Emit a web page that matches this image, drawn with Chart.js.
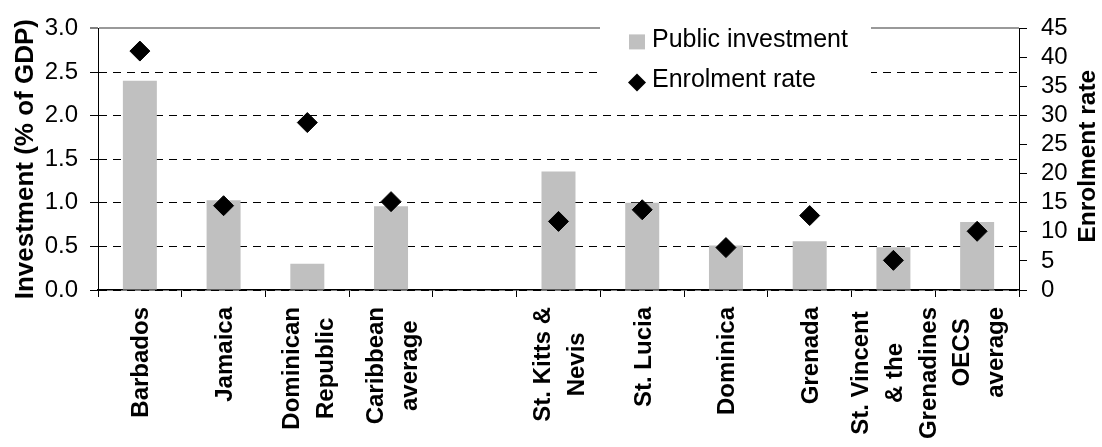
<!DOCTYPE html>
<html lang="en">
<head>
    <meta charset="UTF-8">
    <title>Public investment and enrolment rate</title>
    <style>
        body {
            margin: 0;
            padding: 0;
            background: #ffffff;
        }

        canvas {
            display: block;
        }
    </style>
    <script src="https://cdn.jsdelivr.net/npm/chart.js"></script>
</head>
<body>
    <canvas id="investChart" width="1102" height="447"></canvas>

    <script>
        // Countries along the x axis (the empty slot separates the two groups)
        const countries = [
            ['Barbados'], ['Jamaica'], ['Dominican', 'Republic'], ['Caribbean', 'average'], [''],
            ['St. Kitts &', 'Nevis'], ['St. Lucia'], ['Dominica'], ['Grenada'],
            ['St. Vincent', '& the', 'Grenadines'], ['OECS', 'average']
        ];
        // Public investment, % of GDP (left axis)
        const publicInvestment = [2.40, 1.03, 0.30, 0.96, null, 1.36, 1.00, 0.51, 0.56, 0.49, 0.78];
        // Enrolment rate (right axis)
        const enrolmentRate = [41.1, 14.5, 28.8, 15.2, null, 11.8, 13.8, 7.3, 12.8, 5.1, 10.1];

        const investmentTicks = [0, 0.5, 1, 1.5, 2, 2.5, 3];
        const enrolmentTicks = [0, 5, 10, 15, 20, 25, 30, 35, 40, 45];

        const FONT = "'Liberation Sans', Arial, sans-serif";
        Chart.defaults.font.family = FONT;
        Chart.defaults.color = '#000000';

        // Legend box and the hand-placed texts (rotated x labels, right axis title)
        const chartDecor = {
            id: 'chartDecor',
            beforeDatasetsDraw(chart) {
                const { ctx, chartArea } = chart;
                const lx = chartArea.left + 531;
                const ty = chartArea.top;

                ctx.save();
                // white backing hides the grid lines behind the legend
                ctx.fillStyle = '#ffffff';
                ctx.fillRect(chartArea.left + 502, ty - 12, 271, 84);

                ctx.fillStyle = '#c0c0c0';
                ctx.fillRect(lx, ty + 6, 16, 15);

                ctx.fillStyle = '#000000';
                ctx.beginPath();
                ctx.moveTo(lx + 8 - 9, ty + 54);
                ctx.lineTo(lx + 8, ty + 45);
                ctx.lineTo(lx + 8 + 9, ty + 54);
                ctx.lineTo(lx + 8, ty + 63);
                ctx.closePath();
                ctx.fill();

                ctx.font = '25px ' + FONT;
                ctx.textAlign = 'left';
                ctx.textBaseline = 'alphabetic';
                ctx.fillText('Public investment', lx + 23, ty + 19);
                ctx.fillText('Enrolment rate', lx + 23, ty + 59);
                ctx.restore();
            },
            afterDraw(chart) {
                const { ctx, chartArea } = chart;
                const xScale = chart.scales.x;

                ctx.save();
                ctx.fillStyle = '#000000';
                ctx.font = 'bold 24px ' + FONT;
                ctx.textAlign = 'center';
                ctx.textBaseline = 'alphabetic';

                countries.forEach((lines, i) => {
                    const cx = xScale.getPixelForTick(i);
                    const widest = Math.max(...lines.map(l => ctx.measureText(l).width));
                    const cy = chartArea.bottom + 17 + widest / 2;
                    lines.forEach((line, j) => {
                        const lx = cx + (j - (lines.length - 1) / 2) * 34;
                        ctx.save();
                        ctx.translate(lx, cy);
                        ctx.rotate(-Math.PI / 2);
                        ctx.fillText(line, 0, 8.5);
                        ctx.restore();
                    });
                });

                // right axis title reads bottom to top like the left one
                ctx.font = 'bold 24.5px ' + FONT;
                ctx.translate(1088, (chartArea.top + chartArea.bottom) / 2 - 3);
                ctx.rotate(-Math.PI / 2);
                ctx.textBaseline = 'middle';
                ctx.fillText('Enrolment rate', 0, 0);
                ctx.restore();
            }
        };

        new Chart(document.getElementById('investChart'), {
            data: {
                labels: countries,
                datasets: [
                    {
                        type: 'line',
                        label: 'Enrolment rate',
                        data: enrolmentRate,
                        yAxisID: 'y1',
                        showLine: false,
                        pointStyle: 'rectRot',
                        pointRadius: 10,
                        pointBackgroundColor: '#000000',
                        pointBorderColor: '#000000',
                        pointBorderWidth: 1
                    },
                    {
                        type: 'bar',
                        label: 'Public investment',
                        data: publicInvestment,
                        yAxisID: 'y',
                        backgroundColor: '#c0c0c0',
                        borderWidth: 0,
                        categoryPercentage: 1,
                        barPercentage: 0.406
                    }
                ]
            },
            options: {
                responsive: false,
                animation: false,
                events: [],
                layout: { padding: { top: 24, left: 0, right: 0, bottom: 0 } },
                plugins: {
                    legend: { display: false },
                    tooltip: { enabled: false }
                },
                scales: {
                    x: {
                        offset: true,
                        ticks: { display: false },
                        grid: {
                            offset: true,
                            drawOnChartArea: false,
                            drawTicks: true,
                            tickLength: 7,
                            tickColor: '#000000',
                            tickWidth: 1
                        },
                        border: { color: '#000000', width: 1.5 },
                        afterFit(scale) { scale.height = 157; }
                    },
                    y: {
                        position: 'left',
                        min: 0,
                        max: 3,
                        afterBuildTicks(axis) {
                            axis.ticks = investmentTicks.map(v => ({ value: v }));
                        },
                        ticks: {
                            autoSkip: false,
                            padding: 12,
                            font: { size: 24 },
                            callback: v => v.toFixed(1)
                        },
                        grid: {
                            color: c => (c.tick && c.tick.value === 3) ? '#999999' : '#000000',
                            lineWidth: c => (c.tick && c.tick.value === 3) ? 2 : 1,
                            tickLength: 8,
                            tickColor: '#000000',
                            tickWidth: 1,
                            tickBorderDash: []
                        },
                        border: {
                            color: '#000000',
                            width: 1,
                            dash: c => (c.tick && c.tick.value === 3) ? [] : [8, 6]
                        },
                        title: {
                            display: true,
                            text: 'Investment (% of GDP)',
                            font: { size: 26, weight: 'bold' },
                            padding: { top: 10, bottom: 0 }
                        },
                        afterFit(scale) { scale.width = 98; }
                    },
                    y1: {
                        position: 'right',
                        min: 0,
                        max: 45,
                        afterBuildTicks(axis) {
                            axis.ticks = enrolmentTicks.map(v => ({ value: v }));
                        },
                        ticks: {
                            autoSkip: false,
                            padding: 14,
                            font: { size: 24 }
                        },
                        grid: {
                            drawOnChartArea: false,
                            tickLength: 8,
                            tickColor: '#000000',
                            tickWidth: 1
                        },
                        border: { color: '#000000', width: 1 },
                        afterFit(scale) { scale.width = 83; }
                    }
                }
            },
            plugins: [chartDecor]
        });
    </script>
</body>
</html>
